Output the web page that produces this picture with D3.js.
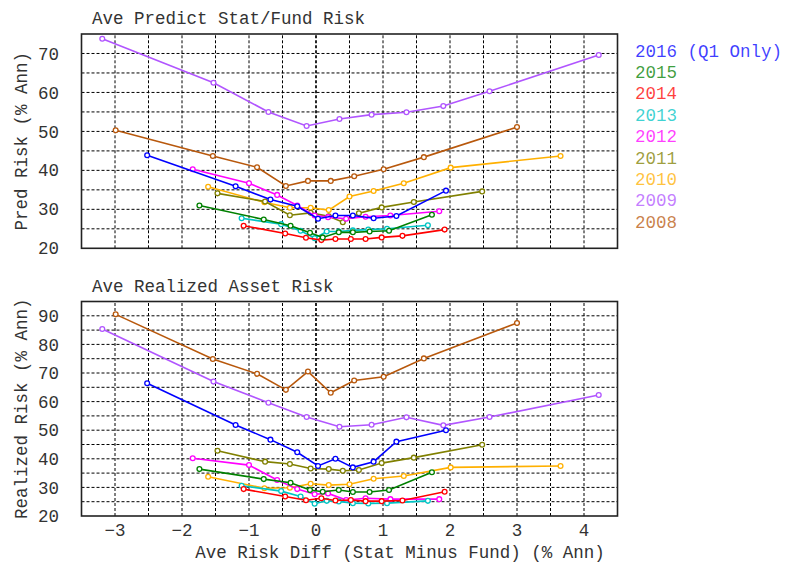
<!DOCTYPE html>
<html>
<head>
<meta charset="utf-8">
<script src="https://cdn.jsdelivr.net/npm/d3@7"></script>
<style>
  body { margin: 0; background: #fff; }
  text { font-family: "Liberation Mono", "Courier New", monospace; }
</style>
</head>
<body>
<svg id="chart" width="796" height="563"></svg>
<script>
// years + colours (legend order)
var years = ["2016", "2015", "2014", "2013", "2012", "2011", "2010", "2009", "2008"]
var legendText = ["2016 (Q1 Only)", "2015", "2014", "2013", "2012", "2011", "2010", "2009", "2008"]
var colors = ["#0000ff", "#008000", "#ff0000", "#00c4c4", "#ff00ff", "#808000", "#ffb000", "#b155ff", "#b8580c"]

// ave risk diff (stat minus fund), one array per year
var diff2016 = [-2.52, -1.20, -0.68, -0.28, 0.03, 0.29, 0.55, 0.86, 1.20, 1.94]
var diff2015 = [-1.74, -0.78, -0.38, -0.09, 0.10, 0.34, 0.55, 0.80, 1.09, 1.73]
var diff2014 = [-1.08, -0.46, -0.15, 0.08, 0.29, 0.52, 0.74, 0.98, 1.29, 1.92]
var diff2013 = [-1.11, -0.52, -0.23, -0.02, 0.16, 0.34, 0.55, 0.78, 1.06, 1.67]
var diff2012 = [-1.84, -1.00, -0.58, -0.28, -0.02, 0.18, 0.45, 0.74, 1.11, 1.84]
var diff2011 = [-1.47, -0.76, -0.39, -0.08, 0.19, 0.40, 0.64, 0.98, 1.46, 2.48]
var diff2010 = [-1.61, -0.77, -0.39, -0.08, 0.19, 0.50, 0.86, 1.31, 2.01, 3.65]
var diff2009 = [-3.19, -1.53, -0.71, -0.14, 0.35, 0.83, 1.35, 1.90, 2.59, 4.22]
var diff2008 = [-2.99, -1.54, -0.88, -0.45, -0.12, 0.22, 0.57, 1.01, 1.61, 3.00]

// predicted risk (top panel)
var pred2016 = [43.9, 35.9, 32.5, 30.8, 27.6, 28.4, 28.4, 27.7, 28.3, 34.8]
var pred2015 = [31.0, 27.4, 25.8, 24.0, 22.8, 24.1, 24.1, 24.3, 24.5, 28.6]
var pred2014 = [25.8, 23.8, 22.7, 22.1, 22.4, 22.4, 22.4, 22.8, 23.2, 24.8]
var pred2013 = [27.7, 26.2, 24.5, 22.6, 24.3, 24.3, 24.6, 24.8, 25.0, 25.9]
var pred2012 = [40.3, 36.7, 33.7, 31.0, 28.4, 28.0, 27.6, 28.1, 28.4, 29.5]
var pred2011 = [34.1, 32.0, 28.5, 29.1, 28.2, 26.7, 29.0, 30.5, 31.9, 34.6]
var pred2010 = [35.8, 31.8, 30.4, 30.4, 29.8, 33.3, 34.7, 36.7, 40.7, 43.7]
var pred2009 = [73.8, 62.5, 55.0, 51.4, 53.2, 54.3, 54.9, 56.5, 60.3, 69.6]
var pred2008 = [50.3, 43.7, 40.8, 36.0, 37.3, 37.3, 38.5, 40.3, 43.4, 51.1]

// realized risk (bottom panel)
var real2016 = [66.4, 51.8, 46.7, 42.3, 37.5, 40.0, 37.0, 39.0, 46.0, 50.0]
var real2015 = [36.4, 32.9, 31.6, 29.1, 28.5, 29.1, 28.4, 28.4, 29.1, 35.3]
var real2014 = [29.4, 26.8, 25.5, 26.2, 25.4, 25.6, 25.2, 25.2, 25.4, 28.5]
var real2013 = [30.6, 28.7, 26.8, 24.3, 25.3, 25.1, 24.5, 24.4, 24.5, 25.3]
var real2012 = [40.2, 37.8, 32.6, 29.4, 27.6, 27.9, 25.6, 26.2, 25.9, 25.9]
var real2011 = [42.8, 39.0, 38.2, 36.6, 36.4, 35.8, 36.1, 38.5, 40.4, 44.9]
var real2010 = [33.7, 29.7, 29.9, 31.3, 30.8, 31.1, 33.0, 34.0, 37.0, 37.5]
var real2009 = [85.4, 67.0, 59.6, 54.6, 51.2, 51.9, 54.5, 51.7, 54.6, 62.3]
var real2008 = [90.5, 74.9, 69.7, 64.1, 70.5, 63.1, 67.4, 68.7, 75.1, 87.5]

var diffs = [diff2016, diff2015, diff2014, diff2013, diff2012, diff2011, diff2010, diff2009, diff2008]
var preds = [pred2016, pred2015, pred2014, pred2013, pred2012, pred2011, pred2010, pred2009, pred2008]
var reals = [real2016, real2015, real2014, real2013, real2012, real2011, real2010, real2009, real2008]

var xTicks = [-3, -2, -1, 0, 1, 2, 3, 4]
var topTicks = [20, 30, 40, 50, 60, 70]
var botTicks = [20, 30, 40, 50, 60, 70, 80, 90]

var svg = d3.select("#chart")
var fontSize = 17.5

var xScale = d3.scaleLinear().domain([-3.5, 4.5]).range([81.5, 617.5])

var panels = [
  { title: "Ave Predict Stat/Fund Risk", ylabel: "Pred Risk (% Ann)", vals: preds,
    y: d3.scaleLinear().domain([20, 75]).range([248.3, 34]), ticks: topTicks, showX: false },
  { title: "Ave Realized Asset Risk", ylabel: "Realized Risk (% Ann)", vals: reals,
    y: d3.scaleLinear().domain([20, 95]).range([516, 301.5]), ticks: botTicks, showX: true }
]

panels.forEach(function(p) {
  var y = p.y
  var x0 = xScale.range()[0], x1 = xScale.range()[1]
  var y0 = y.range()[0], y1 = y.range()[1]
  var g = svg.append("g")

  // grid
  var vGrid = d3.range(-3, 4.01, 0.5)
  g.selectAll(".vg").data(vGrid).enter().append("line")
    .attr("x1", d => xScale(d)).attr("x2", d => xScale(d))
    .attr("y1", y0).attr("y2", y1)
    .attr("stroke", "#000")
    .attr("stroke-width", d => d == 0 ? 1.7 : 1)
    .attr("stroke-dasharray", "3,2")
  var hGrid = d3.range(y.domain()[0] + 5, y.domain()[1] - 0.01, 5)
  g.selectAll(".hg").data(hGrid).enter().append("line")
    .attr("x1", x0).attr("x2", x1)
    .attr("y1", d => y(d)).attr("y2", d => y(d))
    .attr("stroke", "#000").attr("stroke-width", 1)
    .attr("stroke-dasharray", "3,2")

  // frame
  g.append("rect").attr("x", x0).attr("y", y1)
    .attr("width", x1 - x0).attr("height", y0 - y1)
    .attr("fill", "none").attr("stroke", "#222").attr("stroke-width", 1.6)

  // y tick labels
  g.selectAll(".yt").data(p.ticks).enter().append("text")
    .attr("x", 59).attr("y", d => y(d)).attr("dy", "0.35em")
    .attr("text-anchor", "end").attr("font-size", fontSize).attr("fill", "#333")
    .text(d => d)

  // title
  g.append("text").attr("x", 92).attr("y", y1 - 10)
    .attr("font-size", fontSize).attr("fill", "#333").text(p.title)

  // y label
  var cy = (y0 + y1) / 2
  g.append("text").attr("transform", "translate(27," + cy + ") rotate(-90)")
    .attr("text-anchor", "middle").attr("font-size", fontSize).attr("fill", "#333")
    .text(p.ylabel)

  if (p.showX) {
    g.selectAll(".xt").data(xTicks).enter().append("text")
      .attr("x", d => xScale(d)).attr("y", 536)
      .attr("text-anchor", "middle").attr("font-size", fontSize).attr("fill", "#333")
      .text(d => d3.format("")(d))
    g.append("text").attr("x", 400).attr("y", 558)
      .attr("text-anchor", "middle").attr("font-size", fontSize).attr("fill", "#333")
      .text("Ave Risk Diff (Stat Minus Fund) (% Ann)")
  }

  // series, 2008 drawn first
  var line = d3.line().x(d => xScale(d[0])).y(d => y(d[1]))
  for (var i = years.length - 1; i >= 0; i--) {
    var pts = diffs[i].map((d, j) => [d, p.vals[i][j]])
    g.append("path").datum(pts).attr("d", line)
      .attr("fill", "none").attr("stroke", colors[i]).attr("stroke-width", 1.6)
    g.selectAll(".pt" + i).data(pts).enter().append("circle")
      .attr("cx", d => xScale(d[0])).attr("cy", d => y(d[1])).attr("r", 2.4)
      .attr("fill", "#fff").attr("stroke", colors[i]).attr("stroke-width", 1.3)
  }
})

// legend
svg.selectAll(".leg").data(legendText).enter().append("text")
  .attr("x", 635).attr("y", (d, i) => 50.5 + i * 21.4).attr("dy", "0.35em")
  .attr("font-size", fontSize).attr("fill", (d, i) => colors[i]).attr("fill-opacity", 0.75)
  .text(d => d)
</script>
</body>
</html>
